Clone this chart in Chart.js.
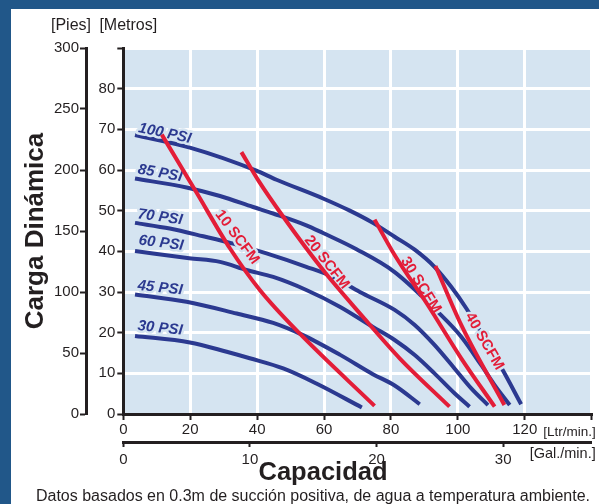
<!DOCTYPE html>
<html><head><meta charset="utf-8">
<script src="https://cdn.jsdelivr.net/npm/chart.js@4.4.1/dist/chart.umd.min.js"></script>
<style>
html,body{margin:0;padding:0;background:#215789;width:599px;height:504px;overflow:hidden}
#panel{position:absolute;left:11px;top:9px;width:588px;height:495px;background:#ffffff}
#c{position:absolute;left:0;top:0}
</style></head><body>
<div id="panel"></div>
<canvas id="c" width="599" height="504"></canvas>
<script>
// ---- data (x = Ltr/min, y = metros) ----
const psiNames = ['100 PSI','85 PSI','70 PSI','60 PSI','45 PSI','30 PSI'];
const psi100 = [[3.5,68.6],[19.9,65.5],[39.6,59.9],[45.8,57.6],[59.7,53.0],[67.7,50.0],[74.6,47.0],[81.1,43.6],[87.1,40.4],[93.0,36.2],[98.0,31.3],[102.5,26.0],[113.4,10.8],[118.9,2.4]];
const psi85  = [[3.5,57.9],[18.9,55.7],[28.9,53.6],[38.8,50.9],[44.8,49.3],[54.7,46.4],[59.7,44.5],[69.7,40.5],[81.1,34.9],[94.0,25.1],[101.0,19.0],[107.0,12.0],[111.0,7.1],[115.5,2.2]];
const psi70  = [[3.5,47.0],[13.9,45.6],[23.9,43.7],[32.8,41.9],[42.8,39.5],[54.7,36.2],[62.7,33.7],[70.7,30.0],[81.1,25.6],[87.1,21.9],[93.0,17.0],[99.0,11.2],[104.0,6.3],[109.0,2.2]];
const psi60  = [[3.5,40.1],[19.7,38.3],[28.9,37.4],[36.8,35.4],[44.8,33.7],[54.7,30.5],[64.7,26.4],[74.6,21.4],[81.1,18.2],[87.1,14.5],[93.0,10.0],[99.0,5.1],[103.5,1.8]];
const psi45  = [[3.5,29.4],[18.9,27.6],[33.9,24.7],[44.8,22.4],[53.7,19.4],[64.7,14.6],[74.6,9.8],[81.1,7.0],[88.6,2.4]];
const psi30  = [[3.5,19.2],[19.9,17.6],[30.9,15.3],[37.8,13.7],[47.8,11.2],[57.7,7.5],[71.3,1.6]];
const scfmNames = ['10 SCFM','20 SCFM','30 SCFM','40 SCFM'];
const scfm10 = [[11.5,68.7],[21.7,54.7],[31.9,40.7],[40.8,30.5],[52.7,19.8],[75.1,2.0]];
const scfm20 = [[35.3,64.4],[40.3,57.5],[47.8,48.5],[59.7,35.4],[71.6,23.9],[82.6,13.7],[97.5,1.8]];
const scfm30 = [[75.1,47.8],[81.1,39.1],[91.0,26.8],[101.0,13.7],[111.0,1.8]];
const scfm40 = [[93.3,36.4],[101.0,21.9],[113.9,2.2]];
// tick labels
const ltrTickLabels = [0,20,40,60,80,100,120];
const galTickLabels = [0,10,20,30];
const metrosTickLabels = [0,10,20,30,40,50,60,70,80];
const piesTickLabels = [0,50,100,150,200,250,300];
// label anchors (data units) and angles
const psiLabelAt = [[12.4,69.0],[11.0,59.2],[11.0,48.4],[11.3,42.0],[11.0,31.0],[11.0,21.1]];
const psiLabelAngle = [12,10,8,7,6,6];
const scfmLabelAt = [[34.0,43.5],[60.8,37.3],[88.9,31.7],[107.9,17.9]];
const scfmLabelAngle = [53,52,58,60];

const BLUE = '#2b3990', RED = '#e31d38', BG = '#d5e4f1', INK = '#231f20';
const LTR_PER_GAL = 3.785;

Chart.defaults.font.family = "'Liberation Sans', Arial, sans-serif";
Chart.defaults.color = INK;

const toXY = arr => arr.map(p => ({x:p[0], y:p[1]}));
const redSeries = [scfm10, scfm20, scfm30, scfm40];
const blueSeries = [psi100, psi85, psi70, psi60, psi45, psi30];
const datasets = [];
redSeries.forEach((s,i) => datasets.push({label:scfmNames[i], data:toXY(s), borderColor:RED, borderWidth:4, pointRadius:0, cubicInterpolationMode:'monotone', fill:false}));
blueSeries.forEach((s,i) => datasets.push({label:psiNames[i], data:toXY(s), borderColor:BLUE, borderWidth:4, pointRadius:0, cubicInterpolationMode:'monotone', fill:false}));
const firstBlue = redSeries.length;

function drawText(ctx, text, x, y, angle, font, color, halo) {
  ctx.save();
  ctx.translate(x, y);
  ctx.rotate(angle * Math.PI / 180);
  ctx.font = font; ctx.textAlign = 'center'; ctx.textBaseline = 'middle';
  if (halo) { ctx.lineWidth = 5; ctx.lineJoin = 'round'; ctx.strokeStyle = BG; ctx.strokeText(text, 0, 0); }
  ctx.fillStyle = color; ctx.fillText(text, 0, 0);
  ctx.restore();
}

const deco = {
  id: 'deco',
  beforeDraw(chart) {
    const {ctx, chartArea: a, scales: {x2}} = chart;
    ctx.save();
    ctx.fillStyle = BG; ctx.fillRect(a.left, a.top, a.right - a.left, a.bottom - a.top);
    ctx.fillStyle = INK; ctx.textAlign = 'center'; ctx.textBaseline = 'alphabetic';
    ctx.font = "bold 25.5px 'Liberation Sans', Arial, sans-serif";
    ctx.fillText('Capacidad', 323, x2.top + 38);
    ctx.font = "16px 'Liberation Sans', Arial, sans-serif";
    ctx.fillText('Datos basados en 0.3m de succión positiva, de agua a temperatura ambiente.', 313, x2.top + 58.5);
    ctx.restore();
  },
  afterDatasetDraw(chart, args) {
    if (args.index !== firstBlue) return;
    const {ctx, scales: {x, y}} = chart;
    psiNames.forEach((n,i) => drawText(ctx, n, x.getPixelForValue(psiLabelAt[i][0]), y.getPixelForValue(psiLabelAt[i][1]), psiLabelAngle[i], "italic bold 15px 'Liberation Sans', Arial, sans-serif", BLUE, true));
    scfmNames.forEach((n,i) => drawText(ctx, n, x.getPixelForValue(scfmLabelAt[i][0]), y.getPixelForValue(scfmLabelAt[i][1]), scfmLabelAngle[i], "bold 15px 'Liberation Sans', Arial, sans-serif", RED, true));
  },
  afterDraw(chart) {
    const {ctx, chartArea: a, scales: {x, x2, y2}} = chart;
    ctx.save();
    ctx.fillStyle = INK; ctx.textBaseline = 'alphabetic';
    ctx.font = "16px 'Liberation Sans', Arial, sans-serif";
    ctx.textAlign = 'center';
    ctx.fillText('[Pies]', y2.right - 15, a.top - 18);
    ctx.fillText('[Metros]', a.left + 5, a.top - 18);
    ctx.textAlign = 'right'; ctx.textBaseline = 'middle';
    ctx.font = "13.5px 'Liberation Sans', Arial, sans-serif";
    ctx.fillText('[Ltr/min.]', a.right + 4, x.top + 18.5);
    ctx.font = "14.5px 'Liberation Sans', Arial, sans-serif";
    ctx.fillText('[Gal./min.]', a.right + 4, x2.top + 11.5);
    ctx.restore();
  }
};

const zeroClear = c => (c.tick && c.tick.value === 0) ? 'rgba(0,0,0,0)' : '#ffffff';
const tickFont = {size: 15};

new Chart(document.getElementById('c'), {
  type: 'line',
  data: {datasets},
  plugins: [deco],
  options: {
    responsive: false, devicePixelRatio: 1, animation: false,
    layout: {padding: {left: 11, top: 48, right: 7.3, bottom: 34}},
    plugins: {legend: {display: false}, tooltip: {enabled: false}},
    scales: {
      x: {type: 'linear', position: 'bottom', weight: 0, min: 0, max: 140,
        ticks: {stepSize: 20, padding: 1, maxRotation: 0, autoSkip: false, font: tickFont, color: INK,
          callback: v => ltrTickLabels.includes(v) ? String(v) : ''},
        grid: {color: zeroClear, lineWidth: 3, tickColor: INK, tickWidth: 2, tickLength: 6},
        border: {color: INK, width: 3},
        afterFit: s => { s.height = 28; }},
      x2: {type: 'linear', position: 'bottom', weight: 1, min: 0, max: 140 / LTR_PER_GAL,
        ticks: {stepSize: 10, includeBounds: false, padding: 4, maxRotation: 0, autoSkip: false, font: tickFont, color: INK,
          callback: v => galTickLabels.includes(Math.round(v)) ? String(Math.round(v)) : ''},
        grid: {drawOnChartArea: false, tickColor: INK, tickWidth: 2, tickLength: 5},
        border: {color: INK, width: 3},
        afterFit: s => { s.height = 28; }},
      y: {type: 'linear', position: 'left', weight: 0, min: 0, max: 90,
        ticks: {stepSize: 10, padding: 2, font: tickFont, color: INK,
          callback: v => metrosTickLabels.includes(v) ? String(v) : ''},
        grid: {color: zeroClear, lineWidth: 3, tickColor: INK, tickWidth: 2, tickLength: 6},
        border: {color: INK, width: 3},
        afterFit: s => { s.width = 37.3; }},
      y2: {type: 'linear', position: 'left', weight: 1, min: 0, max: 300,
        ticks: {stepSize: 50, padding: 1, font: tickFont, color: INK,
          callback: v => piesTickLabels.includes(v) ? String(v) : ''},
        grid: {drawOnChartArea: false, tickColor: INK, tickWidth: 2, tickLength: 6},
        border: {color: INK, width: 3},
        title: {display: true, text: 'Carga Dinámica', color: INK, font: {size: 26, weight: 'bold', lineHeight: 1.2}, padding: {top: 9, bottom: 0}},
        afterFit: s => { s.width = 75; }}
    }
  }
});
</script></body></html>
